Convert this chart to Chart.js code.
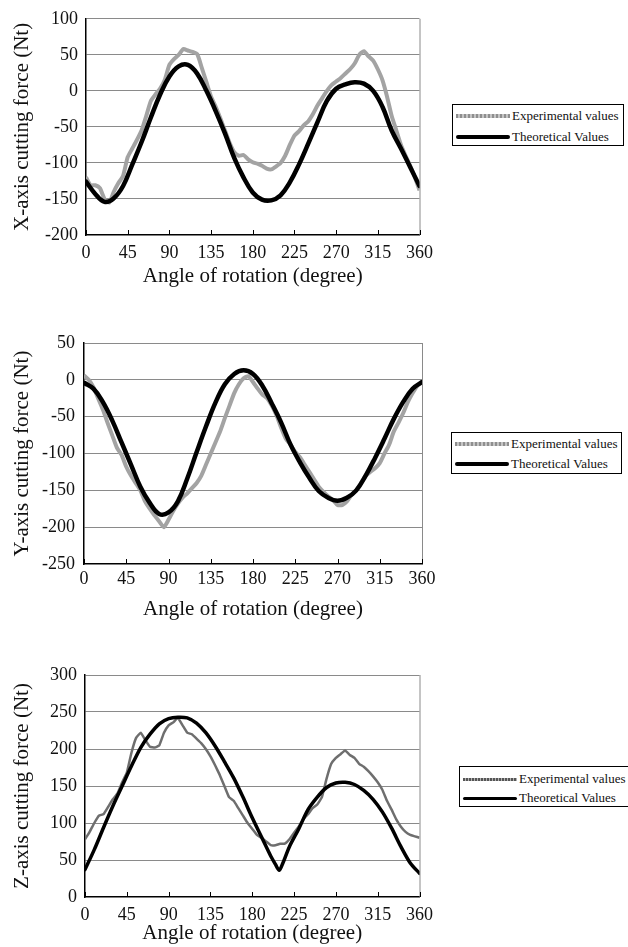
<!DOCTYPE html>
<html>
<head>
<meta charset="utf-8">
<script src="https://cdn.jsdelivr.net/npm/chart.js"></script>
<style>
  body { margin: 0; width: 628px; height: 947px; background: #fff; position: relative; overflow: hidden;
         font-family: "Liberation Serif", "Times New Roman", serif; }
  canvas { position: absolute; left: 0; }
  .legend { position: absolute; border: 1px solid #000; background: #fff; font-size: 13px; color: #111; overflow: visible; }
  .row { position: absolute; left: 3px; height: 16px; display: flex; align-items: center; white-space: nowrap; }
  .swatch { width: 54px; margin-right: 2px; }
  .exp { height: 4px; background: repeating-linear-gradient(90deg, #8e8e8e 0 2px, #c4c4c4 2px 4px); }
  .exp3 { height: 3px; background: repeating-linear-gradient(90deg, #555 0 2px, #b0b0b0 2px 3px); }
  .theo { height: 4px; background: #000; border-radius: 2px; }
  .theo3 { height: 3px; background: #000; border-radius: 2px; }
</style>
</head>
<body>
<canvas id="cx" width="440" height="290" style="top:0px"></canvas>
<canvas id="cy" width="440" height="303" style="top:320px"></canvas>
<canvas id="cz" width="440" height="297" style="top:650px"></canvas>

<div class="legend" style="left:452px; top:104px; width:170px; height:40px;">
  <div class="row" style="top:3px"><div class="swatch exp"></div>Experimental values</div>
  <div class="row" style="top:24px"><div class="swatch theo"></div>Theoretical Values</div>
</div>
<div class="legend" style="left:451px; top:432px; width:169px; height:40px;">
  <div class="row" style="top:3px"><div class="swatch exp"></div>Experimental values</div>
  <div class="row" style="top:23px"><div class="swatch theo"></div>Theoretical Values</div>
</div>
<div class="legend" style="left:459px; top:766px; width:176px; height:39px;">
  <div class="row" style="top:4px"><div class="swatch exp3"></div>Experimental values</div>
  <div class="row" style="top:23px"><div class="swatch theo3"></div>Theoretical Values</div>
</div>

<script>
// angle of rotation (degree)
const angles5 = [0,5,10,15,20,25,30,35,40,45,50,55,60,65,70,75,80,85,90,95,100,105,110,115,120,125,130,135,140,145,150,155,160,165,170,175,180,185,190,195,200,205,210,215,220,225,230,235,240,245,250,255,260,265,270,275,280,285,290,295,300,305,310,315,320,325,330,335,340,345,350,355,360];
const angles10 = [0,10,20,30,40,50,60,70,80,90,100,110,120,130,140,150,160,170,180,190,200,210,220,230,240,250,260,270,280,290,300,310,320,330,340,350,360];
const zTheoryAngles = [0,10,20,30,40,50,60,70,80,90,100,110,120,130,140,150,160,170,180,190,200,205,209,213,220,230,240,250,260,270,280,290,300,310,320,330,340,350,360];
const xTicks = [0,45,90,135,180,225,270,315,360];

// X-axis cutting force (Nt)
const xExperimental = [-120,-131,-131,-135,-150,-155,-140,-128,-118,-92,-80,-68,-55,-35,-14,-5,3,15,36,44,50,58,56,54,51,32,12,-8,-22,-38,-55,-72,-85,-90,-89,-95,-99,-101,-104,-108,-109,-105,-100,-90,-75,-62,-56,-48,-42,-32,-20,-10,0,8,13,18,24,30,38,50,55,48,42,30,15,-8,-35,-55,-75,-90,-104,-120,-138];
const xTheoretical = [-126,-143,-154,-149,-132,-102,-71,-37,-5,20,34,36,24,0,-28,-59,-93,-120,-141,-151,-152,-145,-127,-102,-73,-43,-14,3,9,12,10,0,-22,-55,-80,-106,-132];

// Y-axis cutting force (Nt)
const yExperimental = [6,0,-10,-25,-40,-58,-75,-92,-102,-118,-130,-140,-150,-165,-175,-184,-192,-200,-190,-178,-168,-160,-154,-147,-140,-130,-115,-100,-85,-70,-52,-35,-18,-6,2,5,-3,-12,-20,-25,-35,-48,-65,-80,-88,-98,-105,-115,-125,-135,-145,-152,-158,-163,-170,-170,-165,-156,-150,-140,-130,-125,-120,-113,-100,-88,-70,-58,-45,-30,-18,-8,-2];
const yTheoretical = [-4,-12,-30,-55,-85,-115,-145,-167,-182,-180,-165,-134,-98,-63,-31,-6,8,13,8,-8,-32,-58,-88,-112,-133,-151,-160,-164,-160,-150,-130,-106,-80,-53,-30,-12,-3];

// Z-axis cutting force (Nt)
const zExperimental = [78,88,100,110,112,122,132,140,155,168,195,215,222,212,203,202,205,222,232,236,242,232,222,220,214,208,200,190,178,165,150,135,130,120,110,100,92,84,80,75,70,70,72,72,78,87,95,105,112,120,125,135,160,180,188,193,198,192,188,180,176,170,163,155,145,130,118,105,95,88,84,82,80];
const zTheoretical = [37,64,94,123,150,177,202,220,234,241,243,242,235,222,204,183,161,135,107,81,55,44,36,46,68,92,118,135,148,154,155,152,144,132,115,93,68,46,32];

const zip = (xs, ys) => xs.map((a, i) => ({ x: a, y: ys[i] }));

const framePlugin = {
  id: 'frame',
  beforeDatasetsDraw(chart) {
    const { ctx, chartArea: a, scales: { x } } = chart;
    ctx.save();
    ctx.strokeStyle = '#8a8a8a';
    ctx.lineWidth = 1;
    ctx.beginPath();
    ctx.moveTo(a.right + 0.5, a.top);
    ctx.lineTo(a.right + 0.5, a.bottom);
    ctx.stroke();
    // small inward tick marks on the angle axis
    ctx.strokeStyle = '#000';
    ctx.beginPath();
    xTicks.forEach(v => {
      const px = Math.round(x.getPixelForValue(v)) + 0.5;
      ctx.moveTo(px, a.bottom);
      ctx.lineTo(px, a.bottom - 5);
    });
    ctx.stroke();
    ctx.restore();
  }
};

const serif = '"Liberation Serif", "Times New Roman", serif';

function makeChart(id, o) {
  return new Chart(document.getElementById(id), {
    type: 'line',
    data: {
      datasets: [
        {
          label: 'Theoretical Values',
          data: zip(o.theoAngles, o.theo),
          borderColor: '#000',
          borderWidth: o.theoWidth,
          tension: o.theoTension,
          pointRadius: 0,
          borderCapStyle: 'round',
          borderJoinStyle: 'round'
        },
        {
          label: 'Experimental values',
          data: zip(angles5, o.exp),
          borderColor: o.expColor,
          borderWidth: o.expWidth,
          tension: o.expTension,
          pointRadius: 0,
          borderJoinStyle: 'round'
        }
      ]
    },
    options: {
      responsive: false,
      animation: false,
      layout: { padding: { top: o.padTop, right: o.padRight, left: 0, bottom: 0 } },
      plugins: { legend: { display: false }, tooltip: { enabled: false } },
      scales: {
        x: {
          type: 'linear',
          min: 0, max: 360,
          afterBuildTicks: s => { s.ticks = xTicks.map(v => ({ value: v })); },
          afterFit: s => { s.height = o.xHeight; },
          grid: { display: false, drawTicks: false },
          border: { display: true, color: '#000', width: 1.5 },
          ticks: { autoSkip: false, maxRotation: 0, padding: o.xTickPad, color: '#111', font: { family: serif, size: 18 } },
          title: { display: true, text: 'Angle of rotation (degree)', color: '#111',
                   font: { family: serif, size: 21 }, padding: { top: 0, bottom: 1 } }
        },
        y: {
          min: o.yMin, max: o.yMax,
          ticks: { stepSize: 50, padding: o.yTickPad, color: '#111', font: { family: serif, size: 18 } },
          afterFit: s => { s.width = o.yWidth; },
          grid: {
            drawTicks: false,
            lineWidth: 1,
            color: c => (c.tick && c.tick.value === o.yMin) ? 'rgba(0,0,0,0)' : '#8a8a8a'
          },
          border: { display: true, color: '#000', width: 1.5 },
          title: { display: true, text: o.yTitle, color: '#111',
                   font: { family: serif, size: 21 }, padding: { top: 10, bottom: 0 } }
        }
      }
    },
    plugins: [framePlugin]
  });
}

makeChart('cx', {
  exp: xExperimental, theo: xTheoretical, theoAngles: angles10,
  yMin: -200, yMax: 100, yTitle: 'X-axis cutting force (Nt)',
  padTop: 14, padRight: 15, yWidth: 86, xHeight: 55,
  xTickPad: 7, yTickPad: 8,
  expColor: '#a3a3a3', expWidth: 4, expTension: 0.2, theoWidth: 4.5, theoTension: 0.4
});

makeChart('cy', {
  exp: yExperimental, theo: yTheoretical, theoAngles: angles10,
  yMin: -250, yMax: 50, yTitle: 'Y-axis cutting force (Nt)',
  padTop: 23, padRight: 18, yWidth: 84, xHeight: 59,
  xTickPad: 4, yTickPad: 9,
  expColor: '#a3a3a3', expWidth: 4, expTension: 0.2, theoWidth: 4.5, theoTension: 0.4
});

makeChart('cz', {
  exp: zExperimental, theo: zTheoretical, theoAngles: zTheoryAngles,
  yMin: 0, yMax: 300, yTitle: 'Z-axis cutting force (Nt)',
  padTop: 25, padRight: 10, yWidth: 85, xHeight: 50,
  xTickPad: 7, yTickPad: 8,
  expColor: '#6e6e6e', expWidth: 2.5, expTension: 0.1, theoWidth: 3.5, theoTension: 0.3
});
</script>
</body>
</html>
